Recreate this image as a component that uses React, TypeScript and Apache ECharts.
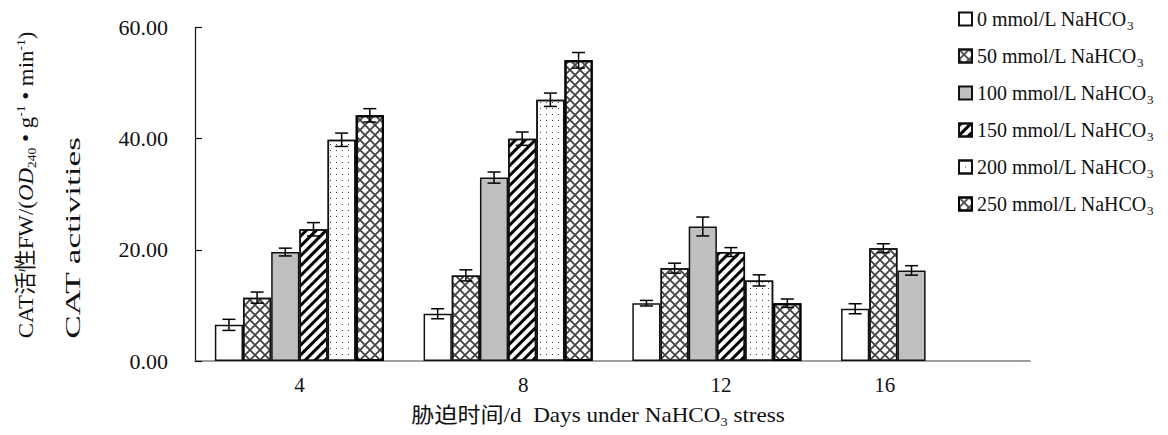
import React, { useEffect, useRef } from 'react';
import * as echarts from 'echarts';

const categories = ['4', '8', '12', '16'];
const seriesNames = [
  '0 mmol/L NaHCO3',
  '50 mmol/L NaHCO3',
  '100 mmol/L NaHCO3',
  '150 mmol/L NaHCO3',
  '200 mmol/L NaHCO3',
  '250 mmol/L NaHCO3',
];
const values0 = [6.5, 8.5, 10.4, 9.4];
const values50 = [11.4, 15.4, 16.7, 20.3];
const values100 = [19.6, 33.0, 24.2, 16.3];
const values150 = [23.7, 40.0, 19.6, null];
const values200 = [39.8, 47.0, 14.5, null];
const values250 = [44.2, 54.1, 10.4, null];
const errors0 = [1.0, 0.9, 0.5, 0.9];
const errors50 = [1.0, 1.0, 0.9, 0.8];
const errors100 = [0.7, 1.0, 1.7, 0.85];
const errors150 = [1.2, 1.2, 0.8, null];
const errors200 = [1.2, 1.2, 1.0, null];
const errors250 = [1.2, 1.4, 0.75, null];
const yMin = 0;
const yMax = 60;
const yInterval = 20;

const allValues = [values0, values50, values100, values150, values200, values250];
const allErrors = [errors0, errors50, errors100, errors150, errors200, errors250];

const FONT = "'Liberation Serif', 'Times New Roman', 'Noto Sans CJK SC', serif";
const CAT_GAP = 0.19;

const crossDecal = {
  symbol: 'path://M0,0L1.3,0L10,8.7L10,10L8.7,10L0,1.3ZM10,0L10,1.3L1.3,10L0,10L0,8.7L8.7,0Z',
  symbolSize: 1,
  symbolKeepAspect: false,
  color: '#444',
  dashArrayX: [10, 0],
  dashArrayY: [10, 0],
  rotation: 0,
};
const stripeDecal = {
  symbol: 'rect',
  symbolSize: 1,
  color: '#000',
  dashArrayX: [10, 0],
  dashArrayY: [3, 4],
  rotation: -Math.PI / 4,
};
const dotDecal = {
  symbol: 'rect',
  symbolSize: 1,
  color: '#444',
  dashArrayX: [1, 5],
  dashArrayY: [1, 5],
  rotation: 0,
};

const barStyles = [
  { color: '#ffffff', borderColor: '#111', borderWidth: 1.5 },
  { color: '#ffffff', borderColor: '#111', borderWidth: 1.5, decal: crossDecal },
  { color: '#c0c0c0', borderColor: '#111', borderWidth: 1.5 },
  { color: '#ffffff', borderColor: '#111', borderWidth: 1.5, decal: stripeDecal },
  { color: '#ffffff', borderColor: '#111', borderWidth: 1.5, decal: dotDecal },
  { color: '#ffffff', borderColor: '#000', borderWidth: 2, decal: crossDecal },
];

export default function App() {
  const ref = useRef<HTMLDivElement>(null);
  useEffect(() => {
    if (!ref.current) return;
    const chart = echarts.init(ref.current, null, { renderer: 'svg' });
    const nSeries = seriesNames.length;

    const errorRows: any[] = [];
    allValues.forEach((vals, si) => {
      vals.forEach((v, ci) => {
        const e = allErrors[si][ci];
        if (v != null && e != null) errorRows.push([ci, si, v, e]);
      });
    });

    const barSeries = seriesNames.map((name, i) => ({
      name,
      type: 'bar',
      data: allValues[i],
      barGap: '0%',
      barCategoryGap: CAT_GAP * 100 + '%',
      itemStyle: barStyles[i],
      emphasis: { disabled: true },
      z: 2,
    }));

    const labelFont = { fontSize: 21, fontFamily: FONT, color: '#111' };

    const option: any = {
      animation: false,
      aria: { enabled: false },
      grid: { left: 195, right: 138, top: 27.5, bottom: 74 },
      legend: {
        data: seriesNames,
        orient: 'vertical',
        left: 953,
        top: 1,
        itemWidth: 13,
        itemHeight: 13,
        itemGap: 11,
        icon: 'rect',
        selectedMode: false,
        formatter: (name: string) => `{a|${name.slice(0, -1)}}{s|${name.slice(-1)}}`,
        textStyle: {
          rich: {
            a: { fontSize: 20, fontFamily: FONT, color: '#111', lineHeight: 24 },
            s: { fontSize: 13, fontFamily: FONT, color: '#111', lineHeight: 24, padding: [13, 0, 0, 0] },
          },
        },
      },
      xAxis: {
        type: 'category',
        data: categories,
        axisTick: { show: false },
        axisLine: { lineStyle: { color: '#7f7f7f', width: 1.5 } },
        axisLabel: {
          ...labelFont,
          margin: 13,
          formatter: (v: string, idx: number) => `{c${idx}|${v}}`,
          rich: {
            c0: { ...labelFont },
            c1: { ...labelFont, padding: [0, 0, 0, 30] },
            c2: { ...labelFont, padding: [0, 0, 0, 8] },
            c3: { ...labelFont, padding: [0, 82, 0, 0] },
          },
        },
      },
      yAxis: {
        type: 'value',
        min: yMin,
        max: yMax,
        interval: yInterval,
        splitLine: { show: false },
        axisLine: { show: true, lineStyle: { color: '#111', width: 1.2 } },
        axisTick: { show: true, inside: true, length: 7, lineStyle: { color: '#111', width: 1.2 } },
        axisLabel: {
          fontSize: 22,
          fontFamily: FONT,
          color: '#111',
          margin: 27,
          formatter: (v: number) => v.toFixed(2),
        },
      },
      series: [
        ...barSeries,
        {
          type: 'custom',
          name: 'errorbars',
          silent: true,
          z: 10,
          data: errorRows,
          encode: { x: 0, y: 2 },
          renderItem: (params: any, api: any) => {
            const ci = api.value(0);
            const si = api.value(1);
            const v = api.value(2);
            const e = api.value(3);
            const band = api.size([1, 0])[0];
            const total = band * (1 - CAT_GAP);
            const w = total / nSeries;
            const cx = api.coord([ci, 0])[0] - total / 2 + w * (si + 0.5);
            const yTop = api.coord([ci, v + e])[1];
            const yBot = api.coord([ci, v - e])[1];
            const cap = 6.5;
            const st = { stroke: '#000', lineWidth: 1.5 };
            return {
              type: 'group',
              children: [
                { type: 'line', shape: { x1: cx, y1: yTop, x2: cx, y2: yBot }, style: st },
                { type: 'line', shape: { x1: cx - cap, y1: yTop, x2: cx + cap, y2: yTop }, style: st },
                { type: 'line', shape: { x1: cx - cap, y1: yBot, x2: cx + cap, y2: yBot }, style: st },
              ],
            };
          },
        },
      ],
      graphic: [
        {
          type: 'text',
          x: 26,
          y: 185,
          rotation: Math.PI / 2,
          scaleX: 1.04,
          style: {
            text: '{a|CAT活性FW/(}{i|OD}{sub|240}{a| • g}{sup|-1}{a| • min}{sup|-1}{a|)}',
            align: 'center',
            verticalAlign: 'middle',
            textAlign: 'center',
            textVerticalAlign: 'middle',
            fill: '#111',
            rich: {
              a: { fontSize: 22, fontFamily: FONT, color: '#111', lineHeight: 26 },
              i: { fontSize: 22, fontFamily: FONT, fontStyle: 'italic', color: '#111', lineHeight: 26 },
              sub: { fontSize: 13, fontFamily: FONT, color: '#111', lineHeight: 26, padding: [12, 0, 0, 0] },
              sup: { fontSize: 13, fontFamily: FONT, color: '#111', lineHeight: 26, padding: [0, 0, 10, 0] },
            },
          },
        },
        {
          type: 'text',
          x: 73,
          y: 238,
          rotation: Math.PI / 2,
          scaleX: 1.6,
          style: {
            text: 'CAT activities',
            align: 'center',
            verticalAlign: 'middle',
            textAlign: 'center',
            textVerticalAlign: 'middle',
            fill: '#111',
            fontSize: 22,
            fontFamily: FONT,
          },
        },
        {
          type: 'text',
          x: 598,
          y: 415,
          scaleX: 1.1,
          style: {
            text: '{a|胁迫时间/d  Days under NaHCO}{sub|3}{a| stress}',
            align: 'center',
            verticalAlign: 'middle',
            textAlign: 'center',
            textVerticalAlign: 'middle',
            fill: '#111',
            rich: {
              a: { fontSize: 21, fontFamily: FONT, color: '#111', lineHeight: 26 },
              sub: { fontSize: 13, fontFamily: FONT, color: '#111', lineHeight: 26, padding: [13, 0, 0, 0] },
            },
          },
        },
      ],
    };
    chart.setOption(option);
    return () => chart.dispose();
  }, []);
  return (
    <div
      ref={ref}
      style={{ position: 'absolute', left: 0, top: 0, width: 1168, height: 435, background: '#fff' }}
    />
  );
}
